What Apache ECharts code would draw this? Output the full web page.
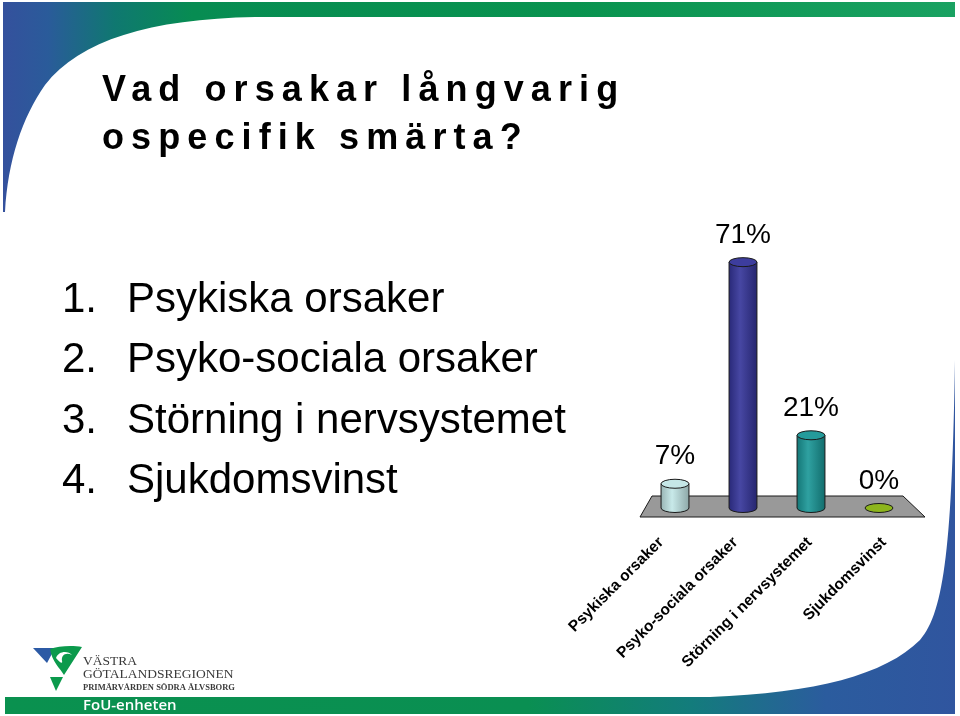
<!DOCTYPE html>
<html>
<head>
<meta charset="utf-8">
<script src="https://cdn.jsdelivr.net/npm/echarts@6/dist/echarts.min.js"></script>
<style>
html,body{margin:0;padding:0;background:#fff;}
#wrap{position:relative;width:960px;height:716px;overflow:hidden;}
#chart{position:absolute;left:0;top:0;width:960px;height:716px;}
#title{position:absolute;left:102px;top:65px;font:bold 36px "Liberation Sans",Arial,sans-serif;letter-spacing:7.1px;line-height:48px;color:#000;white-space:nowrap;pointer-events:none;}
</style>
</head>
<body>
<div id="wrap">
  <div id="chart"></div>
  <div id="title"></div>
</div>
<script>
// ---- data ----
const titleLines = ['Vad orsakar långvarig', 'ospecifik smärta?'];
const listNumbers = ['1.', '2.', '3.', '4.'];
const listItems = ['Psykiska orsaker', 'Psyko-sociala orsaker', 'Störning i nervsystemet', 'Sjukdomsvinst'];
const categories = ['Psykiska orsaker', 'Psyko-sociala orsaker', 'Störning i nervsystemet', 'Sjukdomsvinst'];
const values = [7, 71, 21, 0];
const valueLabels = ['7%', '71%', '21%', '0%'];
const barColors = ['#c2e6e6', '#333399', '#189696', '#8db51c'];
const logoLines = ['VÄSTRA', 'GÖTALANDSREGIONEN', 'PRIMÄRVÅRDEN SÖDRA ÄLVSBORG'];
const footerText = 'FoU-enheten';

document.getElementById('title').innerHTML = titleLines.join('<br>');

function mix(hex, t) {
  const n = parseInt(hex.slice(1), 16);
  const r = n >> 16, g = (n >> 8) & 255, b = n & 255;
  const f = c => Math.round(t > 0 ? c + (255 - c) * t : c * (1 + t));
  return 'rgb(' + f(r) + ',' + f(g) + ',' + f(b) + ')';
}

// decorative slide shapes registered as path classes
const G = echarts.graphic;
G.registerShape('topSwoosh', G.extendPath('M3,2 L955,2 L955,17 L255,17 C150,19 80,40 45,85 C22,118 8,160 5,212 L3,212 Z', {}));
G.registerShape('bottomSwoosh', G.extendPath('M5,697 L710,697 C815,693 885,675 920,640 C945,612 952,540 955,360 L955,714 L5,714 Z', {}));
G.registerShape('logoSwirl', G.extendPath('M50,649 C58,646 72,645 82,647 L64,675 C60,668 52,662 50,649 Z', {}));
G.registerShape('logoSwirlCut', G.extendPath('M56,658 C58,651 68,650 72,655 C66,652 61,655 62,661 C63,664 60,663 56,658 Z', {}));

const chart = echarts.init(document.getElementById('chart'), null, {renderer: 'canvas'});

function ellipsePath(cx, cy, rx, ry) {
  return 'M' + (cx - rx) + ',' + cy + ' A' + rx + ',' + ry + ' 0 1 0 ' + (cx + rx) + ',' + cy +
    ' A' + rx + ',' + ry + ' 0 1 0 ' + (cx - rx) + ',' + cy + ' Z';
}

function renderItem(params, api) {
  const i = params.dataIndex;
  const v = api.value(1);
  const base = api.coord([api.value(0), 0]);
  const top = api.coord([api.value(0), v]);
  const bw = api.size([1, 0])[0] * 0.41;
  const rx = bw / 2, ry = 4.5;
  const cx = base[0];
  const c = barColors[i];
  const children = [];
  if (v > 0) {
    const grad = new echarts.graphic.LinearGradient(0, 0, 1, 0, [
      {offset: 0, color: mix(c, -0.22)},
      {offset: 0.4, color: mix(c, 0.1)},
      {offset: 1, color: mix(c, -0.28)}
    ]);
    children.push({
      type: 'path',
      shape: {pathData: 'M' + (cx - rx) + ',' + top[1] + ' L' + (cx - rx) + ',' + base[1] +
        ' A' + rx + ',' + ry + ' 0 0 0 ' + (cx + rx) + ',' + base[1] +
        ' L' + (cx + rx) + ',' + top[1] + ' Z'},
      style: {fill: grad, stroke: '#1a1a1a', lineWidth: 1}
    });
  }
  children.push({
    type: 'path',
    shape: {pathData: ellipsePath(cx, top[1], rx, ry)},
    style: {fill: v > 0 ? mix(c, 0.05) : c, stroke: '#1a1a1a', lineWidth: 1}
  });
  children.push({
    type: 'text',
    style: {
      text: valueLabels[i], x: cx, y: top[1] - 27,
      align: 'center', verticalAlign: 'middle',
      font: '28px "Liberation Sans", Arial, sans-serif', fill: '#000'
    }
  });
  return {type: 'group', children: children};
}

const graphics = [];
graphics.push({
  type: 'topSwoosh', z: 0,
  style: {fill: {type: 'linear', x: 0, y: 0, x2: 960, y2: 0, global: true, colorStops: [
    {offset: 0, color: '#35509d'}, {offset: 0.05, color: '#2a5b9a'}, {offset: 0.12, color: '#0f7870'},
    {offset: 0.2, color: '#078c52'}, {offset: 0.6, color: '#09934f'}, {offset: 1, color: '#1aa262'}]}}
});
graphics.push({
  type: 'bottomSwoosh', z: 0,
  style: {fill: {type: 'linear', x: 0, y: 0, x2: 960, y2: 0, global: true, colorStops: [
    {offset: 0, color: '#0a914f'}, {offset: 0.55, color: '#0a8f52'}, {offset: 0.72, color: '#137c7c'},
    {offset: 0.86, color: '#2b5c9e'}, {offset: 1, color: '#30559f'}]}}
});
// floor of the 3D chart
graphics.push({
  type: 'polygon', z: 1,
  shape: {points: [[652, 496], [903, 496], [925, 517], [640, 517]]},
  style: {fill: '#999999', stroke: '#1a1a1a', lineWidth: 1}
});
// numbered list
const listY = [300, 360.5, 421, 481.5];
listItems.forEach(function (t, i) {
  graphics.push({type: 'text', z: 3, style: {text: listNumbers[i], x: 62, y: listY[i], verticalAlign: 'middle',
    font: '42px "Liberation Sans", Arial, sans-serif', fill: '#000'}});
  graphics.push({type: 'text', z: 3, style: {text: t, x: 127, y: listY[i], verticalAlign: 'middle',
    font: '42px "Liberation Sans", Arial, sans-serif', fill: '#000'}});
});
// logo
graphics.push({type: 'polygon', z: 3, shape: {points: [[33, 648], [55, 648], [47, 663]]}, style: {fill: '#2c5aa5'}});
graphics.push({type: 'logoSwirl', z: 3, style: {fill: '#0b9a4c'}});
graphics.push({type: 'logoSwirlCut', z: 4, style: {fill: '#ffffff'}});
graphics.push({type: 'polygon', z: 3, shape: {points: [[50, 677], [63, 677], [56, 691]]}, style: {fill: '#0b9a4c'}});
graphics.push({type: 'text', z: 3, style: {text: logoLines[0], x: 83, y: 661, verticalAlign: 'middle',
  font: '13.5px "Liberation Serif", "DejaVu Serif", serif', fill: '#3a3a3a'}});
graphics.push({type: 'text', z: 3, style: {text: logoLines[1], x: 83, y: 674, verticalAlign: 'middle',
  font: '13.5px "Liberation Serif", "DejaVu Serif", serif', fill: '#3a3a3a'}});
graphics.push({type: 'text', z: 3, style: {text: logoLines[2], x: 83, y: 687.5, verticalAlign: 'middle',
  font: 'bold 8.5px "Liberation Serif", "DejaVu Serif", serif', fill: '#3a3a3a'}});
graphics.push({type: 'text', z: 3, style: {text: footerText, x: 83, y: 705.5, verticalAlign: 'middle',
  font: '600 15px "Open Sans", "Noto Sans", sans-serif', fill: '#ffffff'}});

chart.setOption({
  backgroundColor: '#ffffff',
  animation: false,
  graphic: {elements: graphics},
  grid: [
    {left: 641, right: 47, top: 231, bottom: 208, containLabel: false},
    // front edge of the 3D floor (wider in perspective) carrying the category labels
    {left: 624, width: 297, top: 231, bottom: 208, containLabel: false}
  ],
  xAxis: [{
    type: 'category', data: categories, gridIndex: 0,
    axisLine: {show: false}, axisTick: {show: false}, splitLine: {show: false}, axisLabel: {show: false}
  }, {
    type: 'category', data: categories, gridIndex: 1,
    axisLine: {show: false}, axisTick: {show: false}, splitLine: {show: false},
    axisLabel: {rotate: 45, interval: 0, margin: 32, color: '#000', fontWeight: 'bold', fontSize: 15.5,
      fontFamily: '"Liberation Sans", Arial, sans-serif'}
  }],
  yAxis: [
    {type: 'value', min: 0, max: 80, show: false, splitLine: {show: false}, gridIndex: 0},
    {type: 'value', min: 0, max: 80, show: false, splitLine: {show: false}, gridIndex: 1}
  ],
  series: [{
    type: 'custom', z: 5,
    xAxisIndex: 0, yAxisIndex: 0,
    renderItem: renderItem,
    encode: {x: 0, y: 1},
    data: values.map(function (v, i) { return [i, v]; })
  }]
});
</script>
</body>
</html>
